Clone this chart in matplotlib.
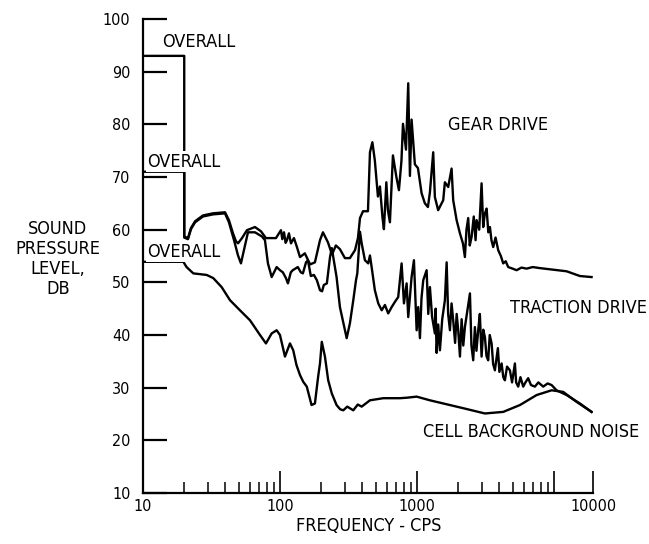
import matplotlib
matplotlib.use('Agg')
import matplotlib.pyplot as plt

# ---------------- data (frequency in CPS, level in dB) ----------------
gear_freq = [10, 20, 20, 21.3, 22.4, 24, 27.4, 32.4, 39.7, 42.4,
             45.4, 47.7, 49.4, 52.8, 57.4, 65.7, 72.6, 79, 85.9, 93.5,
             101.7, 104, 107, 110, 112.5, 116.3, 120.3, 126.5, 133, 140,
             152, 166, 180, 196, 206, 224, 240, 256, 274, 298,
             324, 353, 371, 384, 404, 439, 454, 473, 493, 519,
             537, 560, 574, 598, 614, 635, 668, 708, 739, 771,
             791, 832, 864, 889, 914, 966, 1017, 1082, 1143, 1203,
             1244, 1315, 1352, 1429, 1556, 1600, 1692, 1791, 1840, 1949,
             2061, 2167, 2240, 2300, 2368, 2430, 2506, 2600, 2680, 2728,
             2850, 2965, 3048, 3130, 3227, 3320, 3412, 3500, 3606, 3750,
             3922, 4100, 4266, 4450, 4639, 5000, 5342, 5800, 6319, 7000,
             7905, 9885, 12376, 15480, 18840]
gear_db = [93, 93, 58.7, 58.4, 60.3, 61.6, 62.7, 63.1, 63.3, 61.8,
           59.3, 57.8, 57.4, 58.4, 59.9, 60.5, 59.7, 58.4, 58.4, 58.4,
           59.9, 58.2, 59.5, 57.5, 58.0, 59.3, 57.4, 58.4, 56.7, 54.8,
           55.5, 53.4, 53.8, 58.0, 59.5, 57.6, 55.3, 57.0, 56.3, 54.6,
           54.6, 56.1, 58.4, 62.2, 63.5, 63.5, 74.7, 76.6, 73.1, 66.3,
           68.2, 62.4, 60.1, 69.0, 63.7, 61.4, 74.1, 70.0, 67.5, 73.1,
           80.1, 75.2, 87.8, 70.2, 80.9, 72.4, 71.7, 66.9, 65.0, 64.3,
           67.1, 74.7, 66.2, 63.7, 65.6, 69.0, 68.1, 71.6, 65.6, 61.8,
           59.3, 57.4, 54.8, 60.0, 62.2, 57.0, 58.6, 62.5, 58.0, 61.8,
           60.0, 68.8, 60.5, 63.0, 64.0, 59.5, 60.5, 58.0, 56.7, 58.5,
           56.1, 55.0, 53.6, 54.0, 52.9, 52.6, 52.3, 52.8, 52.6, 52.9,
           52.7, 52.4, 52.1, 51.2, 51.0]

trac_freq = [10, 20, 20, 21.3, 22.4, 24, 27.4, 32.4, 39.7, 42.4,
             46.2, 49.4, 51.9, 54.6, 58.4, 65.7, 73.9, 77.7, 81.7, 87,
             94.6, 100, 105, 110.6, 114.3, 120, 124, 131, 135, 142,
             147, 155, 160, 168, 177, 186, 196, 203, 209, 220,
             232, 239, 244, 259, 274, 298, 307, 324, 343, 359,
             367, 379, 384, 395, 417, 441, 454, 467, 493, 522,
             553, 584, 617, 654, 691, 730, 773, 804, 841, 864,
             914, 951, 995, 1022, 1052, 1080, 1112, 1177, 1210, 1244,
             1290, 1352, 1370, 1392, 1430, 1472, 1530, 1600, 1648, 1690,
             1742, 1790, 1840, 1900, 1950, 2002, 2061, 2120, 2180, 2240,
             2330, 2438, 2500, 2576, 2650, 2720, 2802, 2880, 2965, 3050,
             3136, 3220, 3314, 3400, 3510, 3600, 3709, 3900, 4000, 4152,
             4270, 4388, 4550, 4774, 4950, 5192, 5300, 5489, 5700, 5970,
             6200, 6491, 6800, 7268, 7700, 8355, 9000, 9620, 10460, 12376,
             15480, 18840]
trac_db = [71, 71, 58.5, 58.2, 60.1, 61.4, 62.5, 62.9, 63.1, 61.4,
           58.0, 55.1, 53.6, 56.1, 59.5, 59.5, 58.7, 58.0, 53.6, 51.0,
           52.9, 52.3, 51.9, 50.8, 49.8, 51.9, 52.3, 52.7, 52.9, 51.9,
           51.7, 53.8, 54.2, 51.2, 51.4, 50.4, 48.5, 48.3, 49.5, 49.8,
           54.8, 56.5, 55.1, 51.0, 45.3, 40.9, 39.4, 42.2, 46.6, 50.4,
           51.7, 57.4, 59.6, 57.4, 54.2, 53.6, 55.1, 52.9, 48.5, 46.0,
           44.7, 45.7, 44.1, 45.3, 46.3, 47.2, 53.6, 46.0, 49.8, 43.4,
           51.0, 54.2, 40.9, 45.3, 39.4, 47.0, 50.4, 52.3, 44.0, 49.1,
           43.5, 40.3, 45.0, 36.6, 42.0, 37.1, 43.0, 46.6, 53.8, 44.0,
           40.9, 46.0, 42.8, 38.5, 44.0, 40.9, 35.9, 43.0, 38.0, 41.5,
           44.5, 47.9, 38.0, 35.2, 41.5, 37.0, 40.9, 44.0, 35.9, 41.0,
           39.6, 36.0, 35.2, 40.0, 38.4, 34.5, 33.3, 37.5, 33.0, 34.6,
           32.0, 31.4, 34.0, 33.3, 31.0, 34.6, 31.0, 30.2, 32.0, 30.2,
           31.0, 31.8, 30.5, 30.2, 31.0, 30.2, 30.8, 30.5, 29.5, 28.6,
           27.0, 25.4]

cell_freq = [10, 19.7, 20.8, 23.3, 29.2, 32.6, 37.5, 43.2, 51.0, 60.4,
             71.5, 79.0, 87.0, 94.6, 100, 108.8, 118.3, 125, 132, 140,
             148, 157, 170, 180, 190, 196, 202, 213, 225, 239,
             259, 275, 290, 310, 343, 370, 395, 454, 568, 752,
             850, 995, 1244, 2178, 3136, 4266, 5649, 7480, 9620, 11690,
             14650, 18840]
cell_db = [53.9, 53.9, 52.9, 51.7, 51.4, 50.8, 49.1, 46.6, 44.7, 42.8,
           40.0, 38.4, 40.3, 40.9, 40.0, 35.9, 38.4, 37.1, 34.3, 32.4,
           31.1, 30.2, 26.7, 27.0, 32.1, 34.6, 38.7, 35.9, 31.4, 28.9,
           26.7, 25.9, 25.7, 26.4, 25.7, 26.8, 26.4, 27.6, 28.0, 28.0,
           28.1, 28.3, 27.6, 26.1, 25.1, 25.4, 26.7, 28.6, 29.5, 29.2,
           27.3, 25.4]

y_ticks = [10, 20, 30, 40, 50, 60, 70, 80, 90, 100]
x_major = [10, 100, 1000, 10000]
x_major_labels = ['10', '100', '1000', '']
x_end_label = '10000'
x_minor = [20, 30, 40, 50, 60, 70, 80, 90,
           200, 300, 400, 500, 600, 700, 800, 900,
           2000, 3000, 4000, 5000, 6000, 7000, 8000, 9000]

# ---------------- layout ----------------
W, H = 649, 544
X_MAX = 19300
plt.rcParams['font.family'] = ['DejaVu Sans']
plt.rcParams['font.stretch'] = 'condensed'

fig = plt.figure(figsize=(W / 100, H / 100), dpi=100)
ax = fig.add_axes([143 / W, 1 - 493 / H, 450 / W, 474 / H])

lw = 1.7
ax.plot(gear_freq, gear_db, color='black', lw=lw, solid_joinstyle='round')
ax.plot(trac_freq, trac_db, color='black', lw=lw, solid_joinstyle='round')
ax.plot(cell_freq, cell_db, color='black', lw=lw, solid_joinstyle='round')

ax.set_xscale('log')
ax.set_xlim(10, X_MAX)
ax.set_ylim(10, 100)

for s in ('top', 'right'):
    ax.spines[s].set_visible(False)
for s in ('left', 'bottom'):
    ax.spines[s].set_linewidth(1.6)

ax.set_yticks(y_ticks)
ax.set_yticklabels([str(v) for v in y_ticks])
ax.set_xticks(x_major + [X_MAX])
ax.set_xticklabels(x_major_labels + [x_end_label])
ax.set_xticks(x_minor, minor=True)
ax.set_xticklabels([], minor=True)

ax.tick_params(axis='y', direction='in', length=17, width=1.6, pad=9,
               labelsize=11.5)
ax.tick_params(axis='x', which='major', direction='in', length=16,
               width=1.2, pad=4, labelsize=11.5)
ax.tick_params(axis='x', which='minor', direction='in', length=8,
               width=1.1)

box = dict(facecolor='white', edgecolor='none', pad=1.0)
ts = 13
fig.text(162 / W, 1 - 41.7 / H, 'OVERALL', fontsize=ts, ha='left', va='center', bbox=box)
fig.text(147 / W, 1 - 161.7 / H, 'OVERALL', fontsize=ts, ha='left', va='center', bbox=box)
fig.text(147 / W, 1 - 251.7 / H, 'OVERALL', fontsize=ts, ha='left', va='center', bbox=box)
fig.text(448 / W, 1 - 125 / H, 'GEAR DRIVE', fontsize=ts, ha='left', va='center')
fig.text(510 / W, 1 - 308.3 / H, 'TRACTION DRIVE', fontsize=ts, ha='left', va='center')
fig.text(423 / W, 1 - 431.7 / H, 'CELL BACKGROUND NOISE', fontsize=ts, ha='left', va='center')
fig.text(58 / W, 1 - 259 / H, 'SOUND\nPRESSURE\nLEVEL,\nDB', fontsize=ts,
         ha='center', va='center', multialignment='center', linespacing=1.15)
fig.text(369 / W, 1 - 526 / H, 'FREQUENCY - CPS', fontsize=ts, ha='center', va='center')

fig.savefig('out.png', dpi=100)
